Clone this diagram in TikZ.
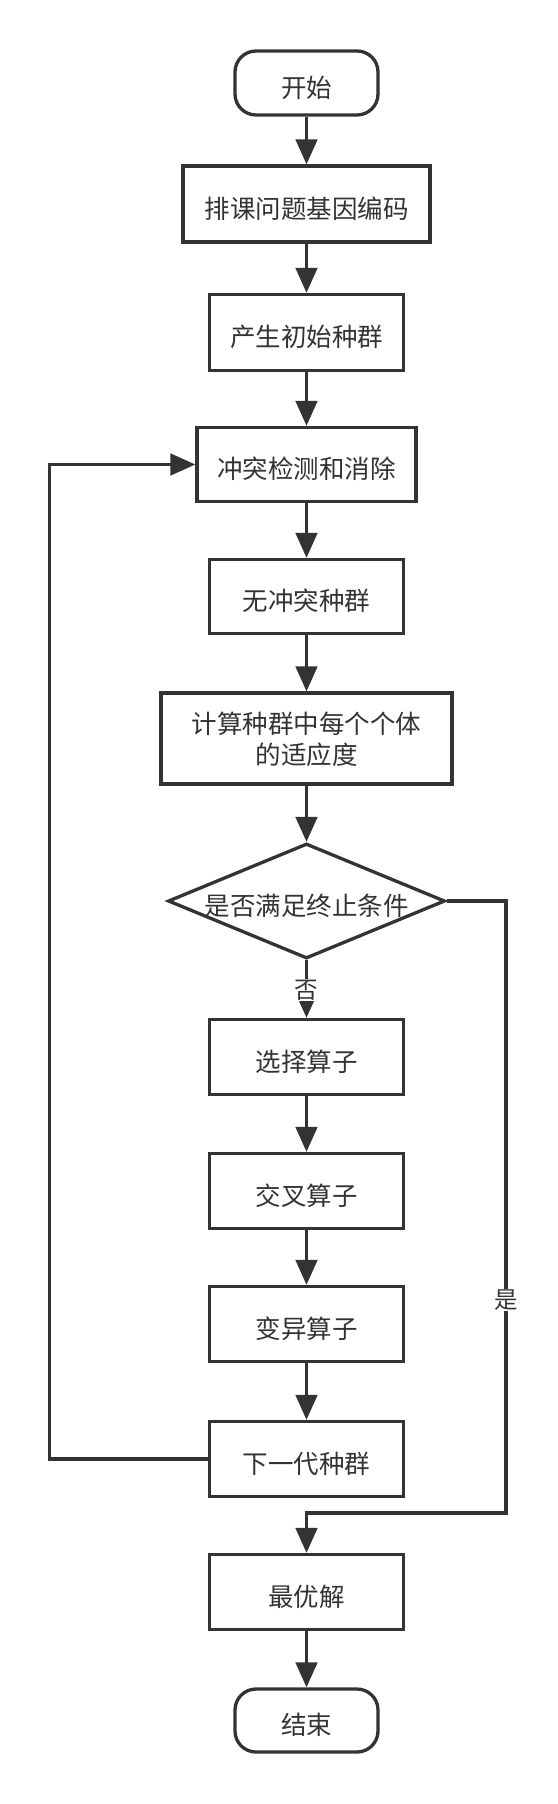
\documentclass[tikz,border=0pt]{standalone}
\usepackage{fontspec}
\setmainfont{Noto Sans CJK SC}
\usetikzlibrary{shapes.geometric,arrows.meta}
\definecolor{ink}{HTML}{333333}
\newcommand\txtdown[1]{\raisebox{-4.5pt}[\height][\depth]{#1}}
\begin{document}
\begin{tikzpicture}[x=1pt,y=-1pt,
  box/.style={draw=ink, line width=3.3pt, text=ink, inner sep=0pt, align=center,
    font=\fontsize{25.5}{30}\selectfont},
  term/.style={box, rounded corners=21pt},
  dec/.style={diamond, draw=ink, line width=3.3pt, text=ink, aspect=2.37, inner sep=0pt,
    minimum width=277pt, minimum height=115pt, font=\fontsize{25.5}{30}\selectfont},
  arr/.style={draw=ink, line width=3.3pt, -{Triangle[width=21.5pt,length=25pt]}},
  lab/.style={fill=white, text=ink, inner sep=1pt, font=\fontsize{23.5}{24}\selectfont}]
\useasboundingbox (0,0) rectangle (557,1804);
\fill[white] (0,0) rectangle (557,1804);

\node[term, minimum width=143pt, minimum height=64pt] (start) at (306.5,83) {\txtdown{开始}};
\node[box, minimum width=247pt, minimum height=76pt] (enc) at (306.5,204) {\txtdown{排课问题基因编码}};
\node[box, minimum width=194pt, minimum height=76pt] (init) at (306.5,332.5) {\txtdown{产生初始种群}};
\node[box, minimum width=219pt, minimum height=74pt] (chk) at (306.5,464.5) {\txtdown{冲突检测和消除}};
\node[box, minimum width=194pt, minimum height=74pt] (nc) at (306.5,596.5) {\txtdown{无冲突种群}};
\node[box, minimum width=291pt, minimum height=91pt] (fit) at (306.5,738.5)
  {\txtdown{\begin{tabular}{@{}c@{}}计算种群中每个个体\\的适应度\end{tabular}}};
\node[dec] (cond) at (306.5,901) {\txtdown{是否满足终止条件}};
\node[box, minimum width=194pt, minimum height=75pt] (sel) at (306.5,1057) {\txtdown{选择算子}};
\node[box, minimum width=194pt, minimum height=75pt] (cross) at (306.5,1191) {\txtdown{交叉算子}};
\node[box, minimum width=194pt, minimum height=75pt] (mut) at (306.5,1324) {\txtdown{变异算子}};
\node[box, minimum width=194pt, minimum height=75pt] (next) at (306.5,1459) {\txtdown{下一代种群}};
\node[box, minimum width=194pt, minimum height=75pt] (best) at (306.5,1592) {\txtdown{最优解}};
\node[term, minimum width=143pt, minimum height=63pt] (end) at (306.5,1720.5) {\txtdown{结束}};

\coordinate (lx) at (49.5,0);
\coordinate (rx) at (506,0);
\coordinate (jy) at (0,1513);

\draw[arr] (start) -- (enc);
\draw[arr] (enc) -- (init);
\draw[arr] (init) -- (chk);
\draw[arr] (chk) -- (nc);
\draw[arr] (nc) -- (fit);
\draw[arr] (fit) -- (cond);
\draw[arr] (cond.south) -- (sel.north) node[lab, pos=0.52] (no) {否};
\draw[arr] (sel) -- (cross);
\draw[arr] (cross) -- (mut);
\draw[arr] (mut) -- (next);
\draw[arr] (best) -- (end);
\draw[arr] (next.west) -- (next.west -| lx) |- (chk.west);
\draw[arr] (cond.east) -- (cond.east -| rx) -- (rx |- jy) -- (best.north |- jy) -- (best.north);
\node[lab] (yes) at (506,1300) {是};
\end{tikzpicture}
\end{document}
